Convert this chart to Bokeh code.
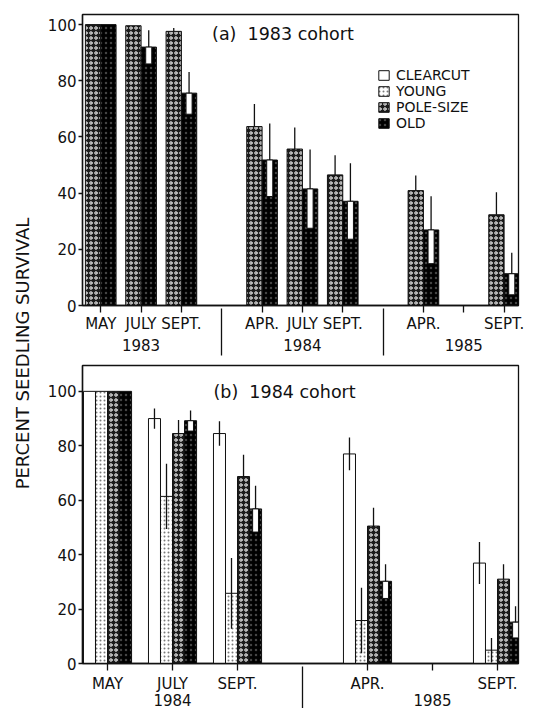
import numpy as np
from bokeh.plotting import figure
from bokeh.models import (Range1d, FixedTicker, Legend, LegendItem, Label,
                          ColumnDataSource, LinearAxis)
from bokeh.layouts import row, column
from bokeh.core.properties import value
from bokeh.embed import file_html
from bokeh.resources import INLINE

FONT = "DejaVu Sans"
INK = "#111111"

# ---------------- data ----------------
# sampling occasions along x; "|" marks a year divider, "" an unlabeled occasion
a_occasions = ["MAY", "JULY", "SEPT.", "|", "APR.", "JULY", "SEPT.", "|", "APR.", "", "SEPT."]
a_years = ["1983", "1984", "1985"]
a_pole    = [100, 99.6, 97.6, None, 63.7, 55.7, 46.5, None, 40.9, None, 32.3]
a_pole_se = [0,   0,    1.2,  None, 8.0,  7.7,  7.0,  None, 5.4,  None, 8.0]
a_old     = [100, 92.0, 75.6, None, 51.8, 41.5, 37.1, None, 26.9, None, 11.3]
a_old_se  = [0,   6.0,  7.5,  None, 13.0, 14.0, 13.5, None, 12.0, None, 7.5]

b_occasions = ["MAY", "JULY", "SEPT.", "|", "APR.", "", "SEPT."]
b_years = ["1984", "1985"]
b_clear    = [100, 90.0, 84.5, None, 77.0, None, 36.9]
b_clear_se = [0,   3.7,  4.5,  None, 6.0,  None, 7.7]
b_young    = [100, 61.4, 25.8, None, 15.8, None, 4.9]
b_young_se = [0,   12.0, 13.0, None, 12.0, None, 4.5]
b_pole     = [100, 84.5, 68.7, None, 50.5, None, 31.0]
b_pole_se  = [0,   5.0,  8.0,  None, 6.7,  None, 5.5]
b_old      = [100, 89.2, 56.8, None, 30.2, None, 15.2]
b_old_se   = [0,   3.8,  8.5,  None, 6.3,  None, 5.8]

series_names = ["CLEARCUT", "YOUNG", "POLE-SIZE", "OLD"]
y_ticks = [0, 20, 40, 60, 80, 100]

STYLE = {
    "CLEARCUT": dict(fill_color="white"),
    "YOUNG": dict(fill_color="white", hatch_pattern="dot", hatch_color="#7a7a7a",
                  hatch_scale=4, hatch_weight=1),
    "POLE-SIZE": dict(fill_color="#1c1c1c", hatch_pattern="ring", hatch_color="white",
                      hatch_scale=5, hatch_weight=1),
    "OLD": dict(fill_color="black", hatch_pattern="dot", hatch_color="#444444",
                hatch_scale=5, hatch_weight=1),
}


def occasion_layout(occ):
    ticks = [float(i) for i, o in enumerate(occ) if o != "|"]
    divs = [float(i) for i, o in enumerate(occ) if o == "|"]
    overrides = {float(i): o for i, o in enumerate(occ) if o != "|"}
    groups, cur = [], []
    for i, o in enumerate(occ):
        if o == "|":
            groups.append(cur)
            cur = []
        else:
            cur.append(i)
    groups.append(cur)
    centers = [float(np.mean(g)) for g in groups]
    return ticks, divs, overrides, centers


def make_panel(occ, years, series, width_units, box_units, xr, yr, W, H, borders,
               month_standoff, div_in, div_out, year_standoff,
               title, title_xy, legend_loc=None):
    ticks, divs, overrides, centers = occasion_layout(occ)
    p = figure(width=W, height=H, x_range=Range1d(*xr), y_range=Range1d(*yr),
               output_backend="svg", toolbar_location=None, title=None,
               min_border_left=borders[0], min_border_right=borders[1],
               min_border_top=borders[2], min_border_bottom=borders[3])
    p.grid.visible = False
    p.background_fill_color = "white"
    p.border_fill_color = "white"
    p.outline_line_color = INK
    p.outline_line_width = 1.3

    n = len(series)
    renderers = {}
    for k, (name, vals, ses) in enumerate(series):
        off = (k - (n - 1) / 2.0) * width_units
        xs = [i + off for i, v in enumerate(vals) if v is not None]
        tops = [v for v in vals if v is not None]
        errs = [e for v, e in zip(vals, ses) if v is not None]
        src = ColumnDataSource(dict(x=xs, top=tops))
        r = p.vbar(x="x", top="top", bottom=0, width=width_units, source=src,
                   line_color=INK, line_width=1, **STYLE[name])
        renderers[name] = r
        ex = [x for x, e in zip(xs, errs) if e > 0]
        et = [t for t, e in zip(tops, errs) if e > 0]
        ee = [e for e in errs if e > 0]
        if not ex:
            continue
        up = [t + e for t, e in zip(et, ee)]
        lo = [t - e for t, e in zip(et, ee)]
        if name == "OLD":
            p.vbar(x=ex, top=et, bottom=lo, width=box_units, fill_color="white",
                   line_color=INK, line_width=1)
            p.segment(x0=ex, y0=et, x1=ex, y1=up, line_color=INK, line_width=1.3)
        elif name == "POLE-SIZE":
            p.segment(x0=ex, y0=et, x1=ex, y1=up, line_color=INK, line_width=1.3)
        else:
            p.segment(x0=ex, y0=lo, x1=ex, y1=up, line_color=INK, line_width=1.3)

    # x axis 1: sampling occasions
    xa = p.xaxis[0]
    xa.ticker = FixedTicker(ticks=ticks, minor_ticks=[])
    xa.major_label_overrides = overrides
    xa.major_tick_out = 7
    xa.major_tick_in = 0
    xa.major_label_standoff = month_standoff
    # x axis 2: years, with year dividers drawn as minor ticks
    xa2 = LinearAxis(ticker=FixedTicker(ticks=centers, minor_ticks=divs),
                     major_label_overrides={c: y for c, y in zip(centers, years)})
    xa2.axis_line_color = None
    xa2.major_tick_line_color = None
    xa2.major_tick_out = 0
    xa2.major_tick_in = 0
    xa2.minor_tick_in = div_in
    xa2.minor_tick_out = div_out
    xa2.minor_tick_line_color = INK
    xa2.minor_tick_line_width = 1.3
    xa2.major_label_standoff = year_standoff
    xa2.major_label_text_font = FONT
    xa2.major_label_text_font_size = "15px"
    xa2.major_label_text_color = INK
    p.add_layout(xa2, "below")
    # y axis
    ya = p.yaxis[0]
    ya.ticker = FixedTicker(ticks=y_ticks, minor_ticks=[])
    ya.major_tick_out = 4
    ya.major_tick_in = 0
    ya.major_label_standoff = 2
    for ax in (xa, ya):
        ax.axis_line_color = INK
        ax.axis_line_width = 1.4
        ax.major_tick_line_color = INK
        ax.major_tick_line_width = 1.3
        ax.major_label_text_font = FONT
        ax.major_label_text_font_size = "15px"
        ax.major_label_text_color = INK

    p.add_layout(Label(x=title_xy[0], y=title_xy[1], text=title, text_align="left",
                       text_baseline="middle", text_font=FONT, text_font_size="17.5px",
                       text_color=INK))

    if legend_loc is not None:
        items = []
        for name in series_names:
            r = renderers.get(name)
            if r is None:
                # series not sampled in this cohort: an empty (NaN) entry for the key
                r = p.vbar(x=[np.nan], top=[np.nan], bottom=0, width=width_units,
                           line_color=INK, line_width=1, **STYLE[name])
            items.append(LegendItem(label=name, renderers=[r]))
        lg = Legend(items=items, location=legend_loc, padding=0, margin=0, spacing=0,
                    glyph_width=13, glyph_height=12, label_height=14, label_standoff=6,
                    label_text_font=FONT, label_text_font_size="14px",
                    label_text_color=INK, label_text_line_height=1.0,
                    border_line_color=None, background_fill_alpha=0)
        p.add_layout(lg)
    return p


pa = make_panel(a_occasions, a_years,
                [("POLE-SIZE", a_pole, a_pole_se), ("OLD", a_old, a_old_se)],
                width_units=0.38, box_units=0.15,
                xr=(-0.452, 10.357), yr=(0, 103.6), W=504, H=362,
                borders=(40, 10, 14, 57), month_standoff=2,
                div_in=27, div_out=20, year_standoff=-17,
                title="(a)\u00a0\u00a01983 cohort", title_xy=(2.76, 96.8),
                legend_loc=(295, 174))

pb = make_panel(b_occasions, b_years,
                [("CLEARCUT", b_clear, b_clear_se), ("YOUNG", b_young, b_young_se),
                 ("POLE-SIZE", b_pole, b_pole_se), ("OLD", b_old, b_old_se)],
                width_units=0.185, box_units=0.09,
                xr=(-0.385, 6.323), yr=(0, 109.5), W=504, H=346,
                borders=(44, 24, 3, 43), month_standoff=4,
                div_in=29, div_out=15, year_standoff=-17,
                title="(b)\u00a0\u00a01984 cohort", title_xy=(1.63, 99.6))

# y axis title shared by both panels
H_ALL = 708
pl = figure(width=38, height=H_ALL, x_range=Range1d(0, 38), y_range=Range1d(0, H_ALL),
            output_backend="svg", toolbar_location=None, x_axis_type=None,
            y_axis_type=None, min_border=0)
pl.grid.visible = False
pl.outline_line_color = None
pl.text(x=[22], y=[H_ALL - 353], text=["PERCENT SEEDLING SURVIVAL"], angle=np.pi / 2,
        text_align="center", text_baseline="middle", text_font=value(FONT),
        text_font_size=value("18px"), text_color=INK)

layout = row(pl, column(pa, pb))
open("out.html", "w").write(file_html(layout, INLINE))
